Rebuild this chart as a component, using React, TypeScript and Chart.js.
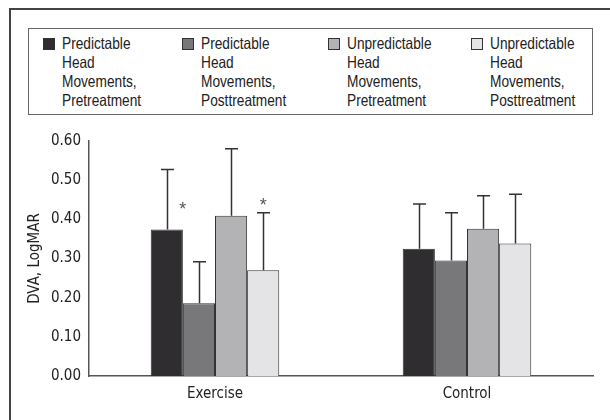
import React, { useEffect, useRef } from "react";
import { Chart, registerables } from "chart.js";

Chart.register(...registerables);

const categories = ["Exercise", "Control"];
const seriesLabels = [
  ["Predictable", "Head", "Movements,", "Pretreatment"],
  ["Predictable", "Head", "Movements,", "Posttreatment"],
  ["Unpredictable", "Head", "Movements,", "Pretreatment"],
  ["Unpredictable", "Head", "Movements,", "Posttreatment"],
];
const predPre = [0.374, 0.325];
const predPost = [0.186, 0.295];
const unpredPre = [0.409, 0.376];
const unpredPost = [0.27, 0.338];
// upper end of error bars (mean + SD)
const predPreErr = [0.527, 0.439];
const predPostErr = [0.292, 0.417];
const unpredPreErr = [0.58, 0.46];
const unpredPostErr = [0.417, 0.464];
const yTicks = [0, 0.1, 0.2, 0.3, 0.4, 0.5, 0.6];
// significance markers: [dataset index, category index, y value, anchor]
const asterisks: [number, number, number, string][] = [
  [0, 0, 0.431, "right"],
  [3, 0, 0.442, "center"],
];

const colors = ["#2f2d30", "#78787a", "#b3b3b5", "#e4e4e6"];
const FONT = "'DejaVu Sans Condensed', 'Liberation Sans', sans-serif";
const LEGEND_FONT = "'Liberation Sans', Arial, sans-serif";

const values = [predPre, predPost, unpredPre, unpredPost];
const errs = [predPreErr, predPostErr, unpredPreErr, unpredPostErr];

const errorBarPlugin = {
  id: "errorBars",
  afterDatasetsDraw(chart: any) {
    const ctx = chart.ctx;
    const yScale = chart.scales.y;
    ctx.save();
    ctx.strokeStyle = "#333";
    ctx.lineWidth = 1.5;
    chart.data.datasets.forEach((ds: any, di: number) => {
      const meta = chart.getDatasetMeta(di);
      meta.data.forEach((bar: any, i: number) => {
        const top = yScale.getPixelForValue(errs[di][i]);
        const x = Math.round(bar.x) + 0.5;
        ctx.beginPath();
        ctx.moveTo(x, bar.y);
        ctx.lineTo(x, top);
        ctx.moveTo(x - 6.5, top);
        ctx.lineTo(x + 6.5, top);
        ctx.stroke();
      });
    });
    ctx.fillStyle = "#555";
    ctx.font = "18px " + LEGEND_FONT;
    ctx.textAlign = "center";
    ctx.textBaseline = "middle";
    asterisks.forEach(([di, ci, v, anchor]) => {
      const bar: any = chart.getDatasetMeta(di).data[ci];
      const x = anchor === "right" ? bar.x + bar.width / 2 : bar.x;
      const y = yScale.getPixelForValue(v);
      ctx.fillText("*", x, y + 3);
    });
    ctx.restore();
  },
};

export default function App() {
  const canvasRef = useRef<HTMLCanvasElement>(null);

  useEffect(() => {
    const chart = new Chart(canvasRef.current!, {
      type: "bar",
      data: {
        labels: categories,
        datasets: values.map((v, i) => ({
          label: seriesLabels[i].join(" "),
          data: v,
          backgroundColor: colors[i],
          borderColor: "#333",
          borderWidth: 1,
          categoryPercentage: 0.51,
          barPercentage: 1.0,
        })),
      },
      options: {
        animation: false,
        responsive: false,
        devicePixelRatio: 1,
        layout: { padding: { top: 21, right: 17, bottom: 14, left: 0 } },
        plugins: {
          legend: { display: false },
          tooltip: { enabled: false },
        },
        scales: {
          x: {
            grid: { display: false, drawTicks: false },
            border: { display: true, color: "#555", width: 1.5 },
            ticks: { color: "#222", font: { family: FONT, size: 15 }, padding: 9 },
            afterFit(scale: any) {
              scale.height = 30;
            },
          },
          y: {
            min: 0,
            max: 0.6,
            afterBuildTicks(scale: any) {
              scale.ticks = yTicks.map((v) => ({ value: v }));
            },
            grid: { display: false, drawTicks: true, tickLength: 5, tickColor: "#555", tickWidth: 1.5 },
            border: { display: true, color: "#555", width: 1.5 },
            ticks: {
              color: "#222",
              font: { family: FONT, size: 15 },
              padding: 3,
              callback: (v: any) => Number(v).toFixed(2),
            },
            title: {
              display: true,
              text: "DVA, LogMAR",
              color: "#222",
              font: { family: FONT, size: 15 },
              padding: { top: 26, bottom: 0 },
            },
            afterFit(scale: any) {
              scale.width = 89;
            },
          },
        },
      },
      plugins: [errorBarPlugin],
    });
    return () => chart.destroy();
  }, []);

  const swatchX = [43, 182, 328, 471];

  return (
    <div
      style={{
        position: "fixed",
        left: 0,
        top: 0,
        width: 610,
        height: 420,
        background: "#fff",
        overflow: "hidden",
        fontFamily: LEGEND_FONT,
        color: "#222",
      }}
    >
      <div
        style={{
          position: "absolute",
          left: 9,
          top: 8,
          right: -10,
          bottom: -10,
          borderLeft: "2px solid #444",
          borderTop: "2px solid #444",
        }}
      />
      <div
        style={{
          position: "absolute",
          left: 28,
          top: 28,
          width: 563,
          height: 85,
          border: "1.5px solid #666",
        }}
      />
      {seriesLabels.map((lines, i) => (
        <React.Fragment key={i}>
          <div
            style={{
              position: "absolute",
              left: swatchX[i],
              top: 38,
              width: 10,
              height: 10,
              background: colors[i],
              border: "1px solid #333",
            }}
          />
          <div
            style={{
              position: "absolute",
              left: swatchX[i] + 19,
              top: 34,
              fontSize: 16.5,
              lineHeight: "19px",
              whiteSpace: "nowrap",
              transform: "scaleX(0.83)",
              transformOrigin: "0 0",
            }}
          >
            {lines.map((l, j) => (
              <div key={j}>{l}</div>
            ))}
          </div>
        </React.Fragment>
      ))}
      <canvas
        ref={canvasRef}
        width={610}
        height={300}
        style={{ position: "absolute", left: 0, top: 120, width: 610, height: 300 }}
      />
    </div>
  );
}
